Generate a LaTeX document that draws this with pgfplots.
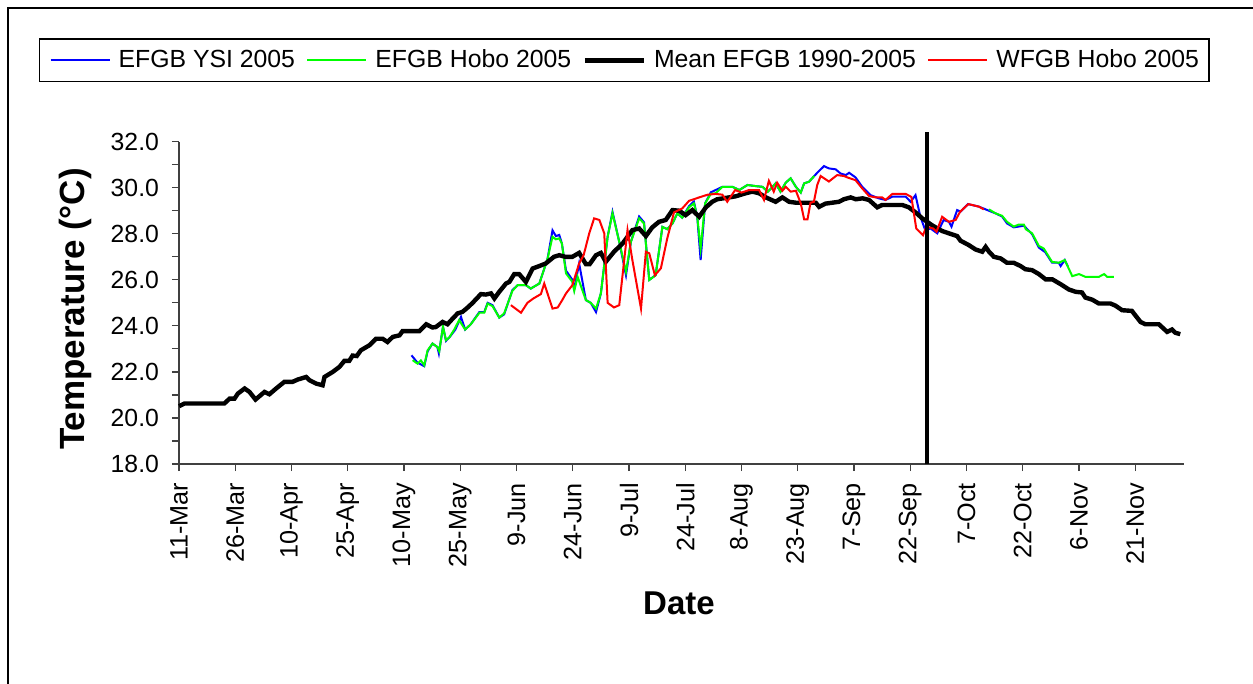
\documentclass[border=0pt]{standalone}
\usepackage{fontspec}
\setmainfont{Liberation Sans}
\usepackage{pgfplots}
\pgfplotsset{compat=1.18}

\begin{document}
\begin{tikzpicture}
\path[use as bounding box] (0,0) rectangle (626.5bp,342bp);
% outer chart frame (only top and left edges are in view)
\draw[line width=1.2bp] (4bp,0) -- (4bp,338bp) -- (626.5bp,338bp);
\begin{axis}[
  at={(89.5bp,110bp)}, anchor=south west,
  scale only axis, width=502.5bp, height=161.15bp,
  axis lines*=left,
  axis line style={line width=0.8bp, black!75},
  xmin=0, xmax=268, ymin=18, ymax=32,
  clip=false,
  unbounded coords=jump,
  tick align=outside,
  major tick length=3.5bp, minor tick length=3.5bp,
  tick style={black!75, line width=0.6bp},
  xtick={0,15,...,255},
  xticklabels={11-Mar,26-Mar,10-Apr,25-Apr,10-May,25-May,9-Jun,24-Jun,9-Jul,24-Jul,8-Aug,23-Aug,7-Sep,22-Sep,7-Oct,22-Oct,6-Nov,21-Nov},
  xticklabel shift=2.5bp,
  x tick label style={rotate=90, anchor=east, font=\fontsize{12.6bp}{14bp}\selectfont},
  ytick={18,20,...,32}, minor ytick={19,21,...,31},
  y tick label style={font=\fontsize{12.4bp}{14bp}\selectfont, /pgf/number format/.cd, fixed, fixed zerofill, precision=1, assume math mode=true, /tikz/.cd, xshift=-3bp},
  xlabel={Date},
  ylabel={Temperature (°C)},
  xlabel style={at={(axis description cs:0.4975,-0.4313)}, anchor=center, font=\fontsize{16.5bp}{19bp}\selectfont\bfseries},
  ylabel style={at={(axis description cs:-0.1035,0.481)}, anchor=center, rotate=0, font=\fontsize{17.5bp}{20bp}\selectfont\bfseries},
  legend columns=4,
  legend image code/.code={\draw[#1] (0bp,0bp) -- (29.5bp,0bp);},
  legend style={at={(-0.1393,1.3208)}, anchor=north west, draw=black, line width=0.6bp,
    inner xsep=5bp, inner ysep=5.5bp, font=\fontsize{12.4bp}{14bp}\selectfont,
    nodes={inner sep=0pt},
    /tikz/every odd column/.append style={column sep=4bp},
    /tikz/every even column/.append style={column sep=5.7bp}},
]
% EFGB YSI 2005
\addplot[blue, line width=1bp] coordinates {
(62,22.72) (63.6,22.4) (65.4,22.25) (66.3,22.9) (67.6,23.23) (68.9,23.08) (69.3,22.8) (70.4,23.96) (71.2,23.35) (72.1,23.5) (73.7,23.84) (75.2,24.39) (76.3,23.84) (77.8,24.07) (80.1,24.6) (81.4,24.6) (82.3,25.0) (83.6,24.9) (85.4,24.36) (86.7,24.5) (88.9,25.55) (90.3,25.77) (92.5,25.77) (93.8,25.62) (96.1,25.84) (98.3,26.93) (99.6,28.15) (100.5,27.9) (101.4,27.95) (102.1,27.58) (103.2,26.4) (104.9,26.0) (105.4,25.6) (106.7,26.71) (108.5,25.12) (109.8,25.0) (111.2,24.6) (112.5,25.41) (114.3,27.87) (115.6,28.95) (117.4,27.65) (119.2,26.2) (120.5,27.65) (122.7,28.75) (124,28.5) (125.4,26.0) (127.1,26.2) (128.9,28.3) (130.2,28.2) (131.6,28.45) (132.9,28.89) (134.2,28.7) (136,29.2) (137.3,29.4) (138.2,28.74) (139.1,26.86) (140.3,29.32) (141.8,29.8) (143.1,29.9) (144.9,30.04) (147.6,30.04) (149.4,29.9) (151.6,30.12) (153.8,30.07) (155.6,30.04) (157,29.83) (158.3,30.04) (159.1,30.19) (160.4,29.83) (161.8,30.22) (163.1,30.41) (164.5,30.04) (165.8,29.79) (166.7,30.19) (168,30.26) (169.4,30.51) (170.2,30.65) (172,30.94) (173.3,30.84) (175.1,30.8) (176.4,30.62) (177.8,30.55) (178.7,30.65) (180.4,30.45) (182.2,30.04) (184.4,29.68) (186.6,29.54) (188.4,29.47) (190.2,29.61) (193.8,29.61) (195.1,29.39) (196.4,29.68) (197.7,28.74) (199,28.16) (200.4,28.23) (202.2,28.02) (203.9,28.6) (205.3,28.52) (206,28.31) (207.5,29.03) (208.4,28.96) (210.4,29.29) (213.3,29.18) (215.1,29.06) (217.7,28.89) (219.5,28.75) (220.8,28.45) (222.6,28.28) (225.3,28.35) (227.5,27.98) (229.3,27.4) (231,27.2) (232.8,26.75) (234.6,26.74) (235.1,26.6) (236.2,26.86) (237,26.6)
};
\addlegendentry{EFGB YSI 2005}
% EFGB Hobo 2005
\addplot[green, line width=1bp] coordinates {
(62.3,22.51) (63.6,22.36) (64.5,22.5) (65.4,22.29) (66.3,22.94) (67.6,23.23) (68.9,23.08) (69.4,22.9) (70.4,23.96) (71.2,23.38) (72.1,23.5) (73.4,23.84) (74.7,24.25) (76.3,23.84) (77.8,24.07) (80.1,24.57) (81.4,24.57) (82.3,24.97) (83.6,24.86) (85.4,24.36) (86.7,24.54) (88.9,25.52) (90.3,25.77) (92.5,25.77) (93.8,25.62) (96.1,25.84) (98.3,26.93) (99.6,27.87) (100.5,27.76) (101.4,27.8) (102.1,27.58) (103.2,26.28) (104.9,25.91) (105.4,25.52) (106.3,26.13) (108.5,25.12) (109.8,25.0) (111.2,24.75) (112.5,25.41) (114.3,27.87) (115.6,28.89) (117.4,27.65) (119.2,26.35) (120.5,27.65) (122.7,28.67) (124,28.45) (125.4,25.99) (127.1,26.2) (128.9,28.3) (130.2,28.2) (131.6,28.45) (132.9,28.89) (134.2,28.7) (136,29.15) (137.3,29.32) (138.2,28.74) (139.1,27.36) (140.3,29.32) (141.8,29.73) (143.1,29.76) (144.9,30.04) (147.6,30.04) (149.4,29.9) (151.6,30.12) (153.8,30.07) (155.6,30.04) (157,29.83) (158.3,30.04) (159.1,30.19) (160.4,29.83) (161.8,30.22) (163.1,30.41) (164.5,30.04) (165.8,29.79) (166.7,30.19) (168,30.26) (169.4,30.51)
(190,nan)
(216,29.06) (217.7,28.89) (219.5,28.78) (220.8,28.52) (222.6,28.31) (223.9,28.4) (225.3,28.4) (225.8,28.2) (227.5,28.02) (229.3,27.47) (230.6,27.36) (232.8,26.78) (234.6,26.74) (236.2,26.86) (238.2,26.16) (240,26.25) (241.7,26.13) (245.3,26.13) (246.7,26.25) (247.5,26.13) (249.3,26.13)
};
\addlegendentry{EFGB Hobo 2005}
% Mean EFGB 1990-2005
\addplot[black, line width=2.2bp] coordinates {
(0,20.51) (1.5,20.63) (12.1,20.63) (13.5,20.84) (14.8,20.84) (15.7,21.06) (17.5,21.28) (18.8,21.13) (20.4,20.8) (22.8,21.13) (24.1,21.03) (25.9,21.28) (28.1,21.57) (30.3,21.57) (31.7,21.67) (33.9,21.78) (34.8,21.64) (36.6,21.49) (38.3,21.42) (38.8,21.78) (41,22.0) (42.8,22.22) (44.1,22.48) (45.4,22.48) (46.3,22.71) (47.4,22.69) (48.5,22.94) (50.8,23.16) (52.5,23.44) (54.3,23.44) (55.6,23.30) (57,23.52) (58.8,23.59) (59.6,23.77) (64.1,23.77) (65.9,24.07) (67.6,23.93) (68.5,23.95) (70.3,24.17) (71.6,24.07) (73,24.32) (74.3,24.54) (75.6,24.61) (77,24.80) (78.3,25.0) (80.5,25.38) (81.8,25.36) (83.2,25.41) (84.1,25.19) (85.4,25.48) (87.2,25.84) (88.1,25.91) (89.4,26.25) (90.7,26.25) (92.5,25.91) (94.3,26.49) (96.1,26.6) (97.8,26.71) (100,27.0) (101.4,27.07) (103,27.0) (104.9,27.0) (106.7,27.17) (108.5,26.68) (109.5,26.68) (111.2,27.07) (112.5,27.17) (113.8,26.78) (116,27.22) (118.3,27.58) (120.9,28.16) (122.7,28.23) (124.5,27.9) (126.2,28.28) (128,28.52) (129.8,28.6) (131.6,29.03) (133.4,29.0) (135.1,28.81) (136.9,29.03) (138.7,28.74) (140.5,29.15) (142.2,29.39) (143.5,29.5) (146.7,29.58) (148.5,29.63) (151.1,29.76) (152.9,29.83) (154.7,29.76) (156.5,29.58) (159.1,29.39) (160.9,29.58) (162.7,29.39) (164.5,29.35) (169.8,29.35) (170.7,29.17) (172.4,29.31) (176,29.39) (177.3,29.5) (179.1,29.58) (180.5,29.5) (182.3,29.54) (184,29.47) (186.2,29.15) (187.5,29.25) (192.9,29.25) (194.6,29.15) (196.4,28.93) (198.2,28.67) (200.9,28.36) (203.5,28.12) (205.3,28.02) (207.5,27.9) (208.4,27.7) (210.6,27.51) (212.4,27.32) (214.2,27.22) (215.1,27.43) (216,27.22) (217.3,27.0) (219.1,26.93) (220.8,26.74) (222.6,26.74) (224.4,26.6) (225.7,26.46) (227.5,26.42) (229.3,26.25) (231.1,26.02) (232.9,26.02) (235.1,25.81) (237.3,25.58) (239.1,25.48) (240.8,25.45) (241.7,25.23) (243.5,25.14) (245.3,24.97) (248.4,24.97) (249.7,24.88) (251.5,24.68) (254.1,24.65) (256.4,24.17) (257.7,24.07) (261.3,24.07) (263.5,23.74) (264.8,23.84) (265.7,23.7) (267,23.64)
};
\addlegendentry{Mean EFGB 1990-2005}
% WFGB Hobo 2005
\addplot[red, line width=1bp] coordinates {
(88.5,24.9) (91.2,24.57) (92.9,25.0) (94.5,25.19) (96.5,25.38) (97.4,25.84) (99.6,24.75) (101,24.8) (102.2,25.12) (103.2,25.41) (104.9,25.77) (106.7,26.71) (107.9,27.07) (109.4,28.02) (110.7,28.67) (112.1,28.6) (113.4,28.02) (114.3,25.0) (116,24.8) (117.4,24.9) (119.6,28.16) (120.9,26.86) (123.2,24.75) (124.5,27.22) (125.4,27.15) (126.9,26.2) (128.5,26.5) (130.2,27.8) (132,28.93) (134.2,29.1) (136,29.43) (138.7,29.58) (141,29.7) (143.1,29.73) (144.9,29.7) (146.2,29.39) (148.3,29.9) (150,29.79) (152,29.9) (154.7,29.9) (156,29.47) (157.3,30.3) (158.6,29.83) (159.5,30.22) (160.9,29.87) (161.8,30.04) (163.1,29.83) (164.5,29.87) (165.8,29.32) (166.7,28.63) (167.6,28.63) (168.4,29.35) (169.3,29.39) (170.2,30.12) (171.1,30.51) (173.3,30.27) (175.5,30.55) (177.3,30.51) (178.7,30.42) (180.4,30.33) (182.2,29.97) (184,29.64) (185.8,29.58) (187.5,29.58) (188.4,29.47) (190.2,29.73) (193.8,29.73) (195.3,29.6) (196.6,28.23) (198.4,27.94) (199.3,28.31) (201.1,28.23) (202,28.09) (203.5,28.74) (205.3,28.52) (207.1,28.6) (208.3,28.96) (210.5,29.29) (213.3,29.18) (214.6,29.06)
};
\addlegendentry{WFGB Hobo 2005}
% marker line
\addplot[black, line width=2.2bp, forget plot] coordinates {(199.4,18) (199.4,32.43)};
\end{axis}
\end{tikzpicture}
\end{document}
